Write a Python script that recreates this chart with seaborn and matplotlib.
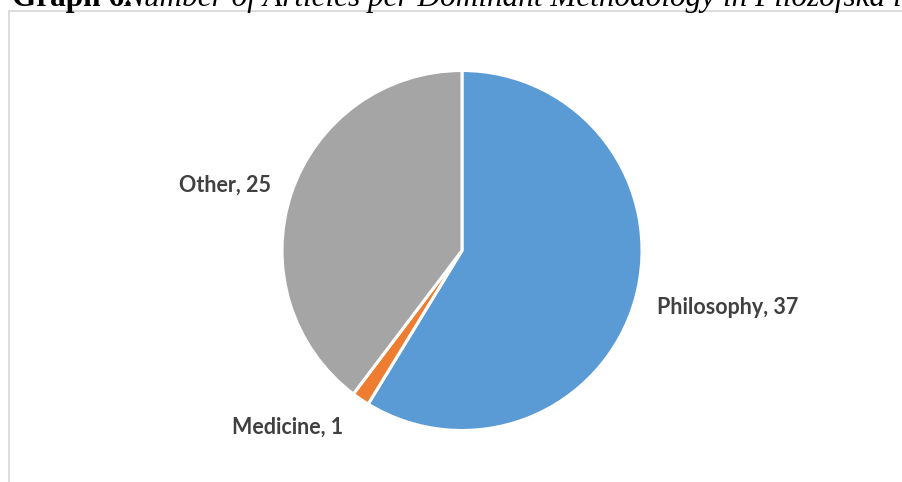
import matplotlib.pyplot as plt
import seaborn as sns
from matplotlib.patches import Rectangle

# data
categories = ['Philosophy', 'Medicine', 'Other']
counts = [37, 1, 25]
colors = ['#5B9BD5', '#ED7D31', '#A5A5A5']

sns.set_theme(style="white")
plt.rcParams['font.family'] = ['Lato', 'DejaVu Sans']

W, H = 903, 482
fig = plt.figure(figsize=(W / 100, H / 100), dpi=100)
ax = fig.add_axes([0, 0, 1, 1])

# pie, clockwise from 12 o'clock
cx, cy, r = 462, H - 250.5, 180
ax.pie(counts, colors=colors, startangle=90, counterclock=False,
       center=(cx, cy), radius=r, frame=True,
       wedgeprops=dict(edgecolor='white', linewidth=2.2))

ax.set_xlim(0, W)
ax.set_ylim(0, H)
ax.set_aspect('auto')
ax.axis('off')

# chart frame (light grey border, cut by the image edge)
ax.add_patch(Rectangle((9.5, -20), W + 20, H - 11 + 20, fill=False,
                       edgecolor='#D9D9D9', linewidth=1.3))

# data labels
label_pos = {'Philosophy': (728, H - 307), 'Medicine': (288, H - 427), 'Other': (225, H - 185)}
for name, val in zip(categories, counts):
    x, y = label_pos[name]
    ax.text(x, y, f'{name}, {val}', ha='center', va='center',
            fontsize=15.5, fontweight='bold', color='#404040')

# caption above, mostly cut off by the top edge
ax.text(12, H - 6, 'Graph 6.', ha='left', va='baseline', fontsize=22.5,
        fontweight='bold', family='Liberation Serif', color='black')
ax.text(123, H - 6, 'Number of Articles per Dominant Methodology in Filozofska istraživanja',
        ha='left', va='baseline', fontsize=22.5, style='italic',
        family='Liberation Serif', color='black')

fig.savefig('out.png', dpi=100)
